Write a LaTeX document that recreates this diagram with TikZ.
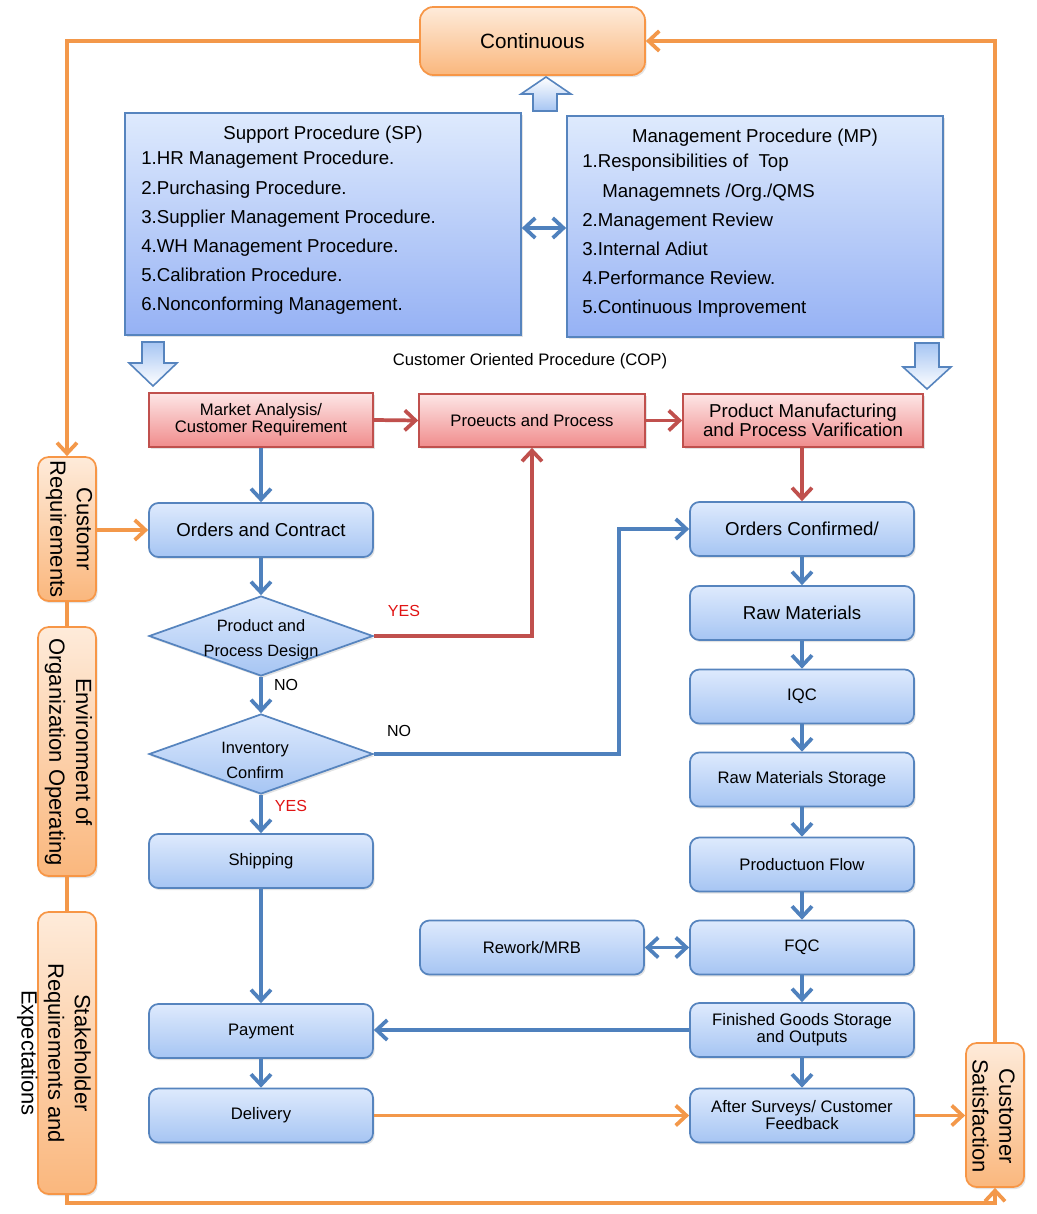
\documentclass[tikz,border=0pt]{standalone}
\usepackage{fontspec}
\setmainfont{Liberation Sans}
\usetikzlibrary{arrows.meta,shapes.geometric,shadows}
\definecolor{bborder}{RGB}{86,132,190}
\definecolor{btop}{RGB}{222,234,253}
\definecolor{bbot}{RGB}{166,197,243}
\definecolor{rborder}{RGB}{192,80,77}
\definecolor{rtop}{RGB}{253,230,230}
\definecolor{rbot}{RGB}{240,140,140}
\definecolor{oborder}{RGB}{247,150,70}
\definecolor{otop}{RGB}{254,235,218}
\definecolor{obot}{RGB}{250,183,125}
\definecolor{barrow}{RGB}{79,129,189}
\definecolor{rarrow}{RGB}{192,80,77}
\definecolor{olinec}{RGB}{243,152,74}
\definecolor{yesred}{RGB}{225,20,20}
\begin{document}
\begin{tikzpicture}[x=0.75pt,y=-0.75pt,
  shad/.style={drop shadow={opacity=0.22,shadow xshift=1.2pt,shadow yshift=-1.6pt}},
  bbox/.style={draw=bborder,line width=1.3pt,rounded corners=7pt,top color=btop,bottom color=bbot,
    minimum width=168pt,minimum height=40.5pt,inner sep=0pt,align=center,shad},
  rbox/.style={draw=rborder,line width=1.3pt,top color=rtop,bottom color=rbot,
    minimum height=40pt,inner sep=0pt,align=center,shad},
  obox/.style={draw=oborder,line width=1.3pt,rounded corners=8pt,top color=otop,bottom color=obot,
    inner sep=0pt,minimum width=43.5pt,shad},
  dia/.style={diamond,draw=bborder,line width=1.3pt,top color=btop,bottom color=bbot,
    minimum width=168pt,minimum height=60pt,inner sep=0pt,shad},
  bigbox/.style={draw=bborder,line width=1.3pt,top color=btop,bottom color=bbot!90!blue,inner sep=0pt,shad},
  blockarr/.style={draw=bborder,line width=1.2pt,line join=miter},
  tipb/.tip={Straight Barb[length=8pt,width=15pt]},
  barr/.style={draw=barrow,line width=2.8pt,-tipb},
  bdarr/.style={draw=barrow,line width=2.8pt,tipb-tipb},
  rarr/.style={draw=rarrow,line width=2.8pt,-tipb},
  oarr/.style={draw=olinec,line width=2.8pt,-tipb},
  oline/.style={draw=olinec,line width=2.8pt},
  fA/.style={font=\fontsize{14}{16}\selectfont},
  fB/.style={font=\fontsize{12.5}{12.75}\selectfont},
  fD/.style={font=\fontsize{12.3}{18.75}\selectfont,align=center,inner sep=0pt},
  fS/.style={font=\fontsize{16.5}{20}\selectfont,align=center,inner sep=0pt,rotate=-90},
  itm/.style={anchor=west,inner sep=0pt,font=\fontsize{14}{16}\selectfont,text height=10pt,text depth=3pt},
  lbl/.style={inner sep=0pt,font=\fontsize{12}{14}\selectfont}
]
\useasboundingbox (0,0) rectangle (1037,1214);
\fill[white] (0,0) rectangle (1037,1214);

% top: Continuous
\node[obox,minimum width=168.75pt,minimum height=51pt,rounded corners=10pt,
  font=\fontsize{15.5}{18}\selectfont] (cont) at (532.5,41) {Continuous};

% big boxes
\node[bigbox,minimum width=297pt,minimum height=166.5pt] (sp) at (323,224) {};
\node[bigbox,minimum width=282pt,minimum height=165.75pt] (mp) at (755,226.5) {};

\node[inner sep=0pt,fA] (spt) at (323,135) {Support Procedure (SP)};
\node[itm] (sp1) at (141,160) {1.HR Management Procedure.};
\node[itm] (sp2) at (141,190) {2.Purchasing Procedure.};
\node[itm] (sp3) at (141,219) {3.Supplier Management Procedure.};
\node[itm] (sp4) at (141,248) {4.WH Management Procedure.};
\node[itm] (sp5) at (141,277) {5.Calibration Procedure.};
\node[itm] (sp6) at (141,306) {6.Nonconforming Management.};

\node[inner sep=0pt,fA] (mpt) at (755,138) {Management Procedure (MP)};
\node[itm] (mp1) at (582,163) {1.Responsibilities of\ \ Top};
\node[itm] (mp1b) at (602,193) {Managemnets /Org./QMS};
\node[itm] (mp2) at (582,222) {2.Management Review};
\node[itm] (mp3) at (582,251) {3.Internal Adiut};
\node[itm] (mp4) at (582,280) {4.Performance Review.};
\node[itm] (mp5) at (582,309) {5.Continuous Improvement};

\coordinate (ymid) at (0,228);
\draw[bdarr] (sp.east |- ymid) -- (mp.west |- ymid);

% block arrows
\draw[blockarr,top color=white,bottom color=bbot]
  (546,77) -- (571,94) -- (557,94) -- (557,111) -- (533,111) -- (533,94) -- (521,94) -- cycle;
\draw[blockarr,top color=bbot,bottom color=white]
  (142,342) -- (164,342) -- (164,363) -- (177,363) -- (153,386) -- (129,363) -- (142,363) -- cycle;
\draw[blockarr,top color=bbot,bottom color=white]
  (915,343) -- (939,343) -- (939,367) -- (951,367) -- (927,389) -- (903,367) -- (915,367) -- cycle;

\node[inner sep=0pt,fB] (cop) at (530,361) {Customer Oriented Procedure (COP)};

% red boxes
\node[rbox,minimum width=168pt,minimum height=40.5pt,fB] (market) at (261,420) {Market Analysis/\\Customer Requirement};
\node[rbox,minimum width=169.5pt,minimum height=39.75pt,fB] (proc) at (532,420.5) {Proeucts and Process};
\node[rbox,minimum width=180pt,minimum height=39.75pt,font=\fontsize{14}{12.2}\selectfont] (pm) at (803,420.5) {Product Manufacturing\\and Process Varification};

% left column
\node[bbox,fA] (oc) at (261,530) {Orders and Contract};
\node[dia] (d1) at (261,636) {};
\node[fD] (d1t) at (261,640) {Product and\\Process Design};
\node[dia] (d2) at (261,754) {};
\node[fD] (d2t) at (255,760) {Inventory\\Confirm};
\node[bbox,fB] (ship) at (261,861) {Shipping};
\node[bbox,fB] (pay) at (261,1031) {Payment};
\node[bbox,fB] (deliv) at (261,1115.5) {Delivery};

% right column
\node[bbox,fA] (ocf) at (802,529) {Orders Confirmed/};
\node[bbox,fA] (raw) at (802,613) {Raw Materials};
\node[bbox,fB] (iqc) at (802,696.5) {IQC};
\node[bbox,fB] (rms) at (802,779.5) {Raw Materials Storage};
\node[bbox,fB] (pflow) at (802,864.5) {Productuon Flow};
\node[bbox,fB] (fqc) at (802,947.5) {FQC};
\node[bbox,fB] (fgs) at (802,1030) {Finished Goods Storage\\and Outputs};
\node[bbox,fB] (after) at (802,1115.5) {After Surveys/ Customer\\Feedback};
\node[bbox,fB] (rework) at (532,947.5) {Rework/MRB};

% side boxes
\node[obox,minimum height=108pt] (cr) at (67,529) {};
\node[fS] (crt) at (69,529) {Customr\\Requirements};
\node[obox,minimum height=186.75pt] (env) at (67,751.5) {};
\node[fS] (envt) at (68.5,752) {Environment of\\Organization Operating};
\node[obox,minimum height=211.5pt] (stake) at (67,1053) {};
\node[fS] (staket) at (54,1053) {Stakeholder\\Requirements and\\Expectations};
\node[obox,minimum height=108pt] (cs) at (995,1115) {};
\node[fS] (cst) at (993.5,1116) {Customer\\Satisfaction};

% orange loop
\draw[oarr] (cont.west) -| (cr.north);
\draw[oline] (cr.south) -- (env.north);
\draw[oline] (env.south) -- (stake.north);
\draw[oarr] (stake.south) -- ++(0,8) -| (cs.south);
\draw[oarr] (cs.north) |- (cont.east);
\draw[oarr] (cr.east |- oc.west) -- (oc.west);
\draw[oarr] (deliv.east) -- (after.west);
\draw[oarr] (after.east) -- (cs.west |- after.east);

% red connectors
\draw[rarr] (market.east) -- (proc.west);
\draw[rarr] (proc.east) -- (pm.west);
\draw[rarr] (d1.east) -| (proc.south);
\draw[rarr] (ocf.north |- pm.south) -- (ocf.north);

% blue connectors
\draw[barr] (market.south) -- (oc.north);
\draw[barr] (oc.south) -- (d1.north);
\draw[barr] (d1.south) -- (d2.north);
\draw[barr] (d2.south) -- (ship.north);
\draw[barr] (ship.south) -- (pay.north);
\draw[barr] (pay.south) -- (deliv.north);
\draw[barr] (d2.east) -- ++(245,0) |- (ocf.west);
\draw[barr] (ocf.south) -- (raw.north);
\draw[barr] (raw.south) -- (iqc.north);
\draw[barr] (iqc.south) -- (rms.north);
\draw[barr] (rms.south) -- (pflow.north);
\draw[barr] (pflow.south) -- (fqc.north);
\draw[barr] (fqc.south) -- (fgs.north);
\draw[barr] (fgs.south) -- (after.north);
\draw[bdarr] (rework.east) -- (fqc.west);
\draw[barr] (fgs.west) -- (fgs.west -| pay.east);

% labels
\node[lbl,text=yesred] (yes1) at (404,611) {YES};
\node[lbl] (no1) at (286,685) {NO};
\node[lbl] (no2) at (399,731) {NO};
\node[lbl,text=yesred] (yes2) at (291,806) {YES};
\end{tikzpicture}
\end{document}
